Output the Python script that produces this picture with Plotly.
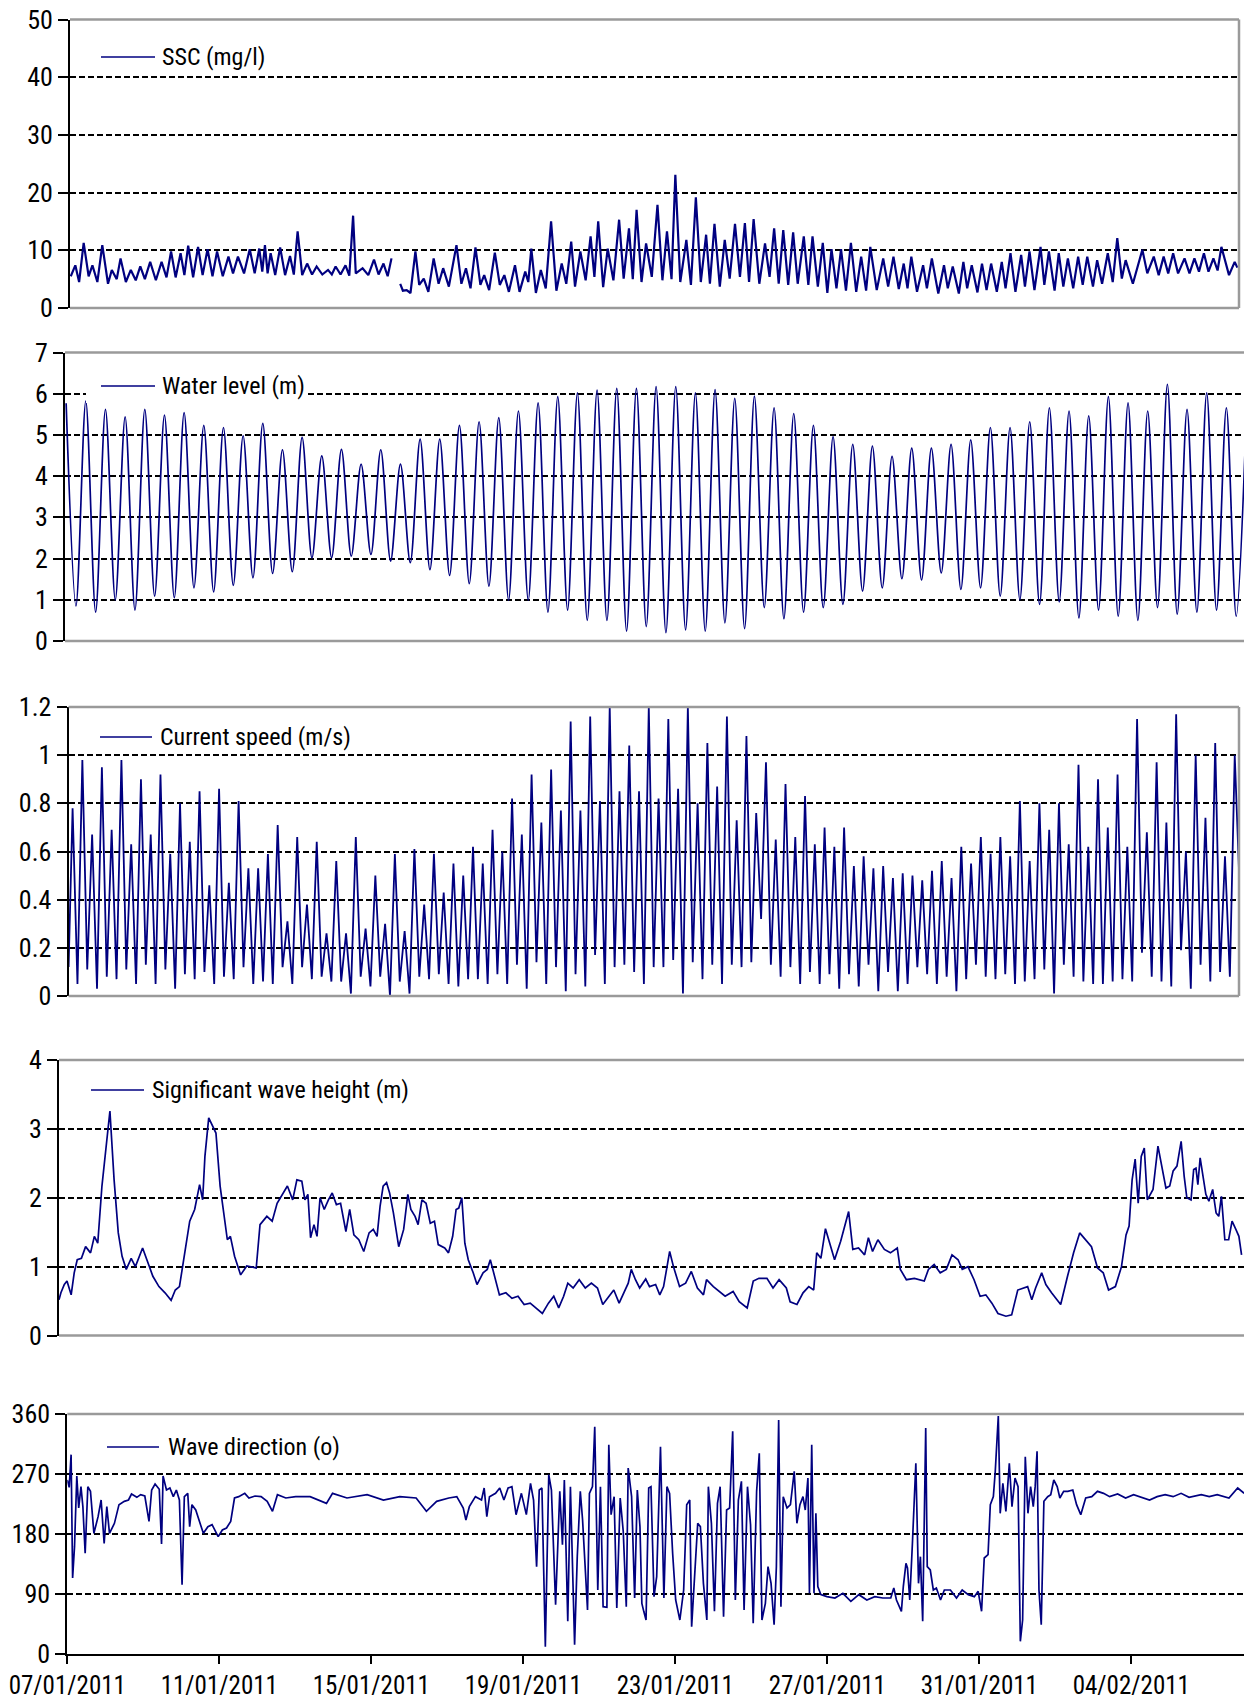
import pandas as pd
import plotly.graph_objects as go

W, H = 1244, 1701
START = pd.Timestamp("2011-01-07 00:00")
NAVY = "#000080"
GREY = "#9a9a9a"
FONT = "Liberation Sans Narrow, Arial Narrow, Roboto Condensed, DejaVu Sans Condensed, sans-serif"

# ---------------------------------------------------------------- data
# Suspended sediment concentration (mg/l); day offsets from 07/01/2011.
# A None value marks the break in the record.
ssc_day = [
    0.02, 0.14, 0.24, 0.36, 0.49, 0.59, 0.72, 0.85, 1.00, 1.10,
    1.23, 1.33, 1.47, 1.60, 1.73, 1.85, 1.97, 2.11, 2.26, 2.41,
    2.54, 2.66, 2.78, 2.91, 3.01, 3.11, 3.24, 3.37, 3.49, 3.62,
    3.75, 3.87, 4.02, 4.17, 4.29, 4.42, 4.58, 4.73, 4.86, 4.98,
    5.06, 5.13, 5.20, 5.28, 5.40, 5.53, 5.66, 5.79, 5.89, 5.99,
    6.11, 6.24, 6.37, 6.49, 6.64, 6.79, 6.89, 6.99, 7.12, 7.25,
    7.35, 7.45, 7.52, 7.70, 7.85, 8.00, 8.12, 8.25, 8.36, 8.46,
    8.58,
    8.69, 8.76, 8.86, 8.96, 9.09, 9.19, 9.31, 9.43, 9.57, 9.70,
    9.82, 9.97, 10.17, 10.30, 10.42, 10.54, 10.67, 10.80, 10.90, 11.03,
    11.18, 11.31, 11.43, 11.55, 11.71, 11.83, 11.98, 12.06, 12.14, 12.26,
    12.39, 12.52, 12.66, 12.80, 12.94, 13.06, 13.19, 13.29, 13.43, 13.57,
    13.70, 13.80, 13.90, 14.03, 14.15, 14.30, 14.45, 14.57, 14.71, 14.81,
    14.91, 15.04, 15.16, 15.31, 15.46, 15.59, 15.71, 15.83, 15.93, 16.06,
    16.22, 16.34, 16.47, 16.60, 16.74, 16.84, 16.96, 17.10, 17.23, 17.36,
    17.50, 17.63, 17.76, 17.87, 17.99, 18.14, 18.29, 18.41, 18.53, 18.65,
    18.77, 18.90, 19.03, 19.15, 19.31, 19.43, 19.54, 19.68, 19.81, 19.93,
    20.04, 20.17, 20.29, 20.42, 20.55, 20.69, 20.82, 20.95, 21.06, 21.23,
    21.40, 21.53, 21.67, 21.81, 21.94, 22.04, 22.14, 22.29, 22.45, 22.55,
    22.68, 22.85, 23.00, 23.10, 23.23, 23.39, 23.51, 23.61, 23.73, 23.88,
    24.00, 24.12, 24.24, 24.39, 24.52, 24.62, 24.75, 24.88, 25.03, 25.13,
    25.25, 25.38, 25.54, 25.64, 25.76, 25.91, 26.02, 26.14, 26.26, 26.40,
    26.53, 26.65, 26.77, 26.92, 27.03, 27.16, 27.31, 27.44, 27.56, 27.68,
    27.78, 27.97, 28.22, 28.35, 28.52, 28.65, 28.78, 28.90, 29.03, 29.16,
    29.33, 29.46, 29.59, 29.71, 29.84, 29.96, 30.09, 30.20, 30.30, 30.50,
    30.65, 30.72,
]
ssc_mgl = [
    5.5, 7.4, 4.5, 11.3, 5.5, 7.4, 4.5, 10.9, 4.2, 6.6,
    5.0, 8.6, 4.5, 6.6, 4.8, 7.2, 5.0, 8.0, 4.8, 8.0,
    5.3, 9.8, 5.3, 9.5, 5.7, 10.8, 5.3, 10.6, 5.7, 10.2,
    5.5, 9.8, 5.5, 8.9, 6.0, 8.9, 6.0, 10.2, 6.0, 10.3,
    6.3, 10.9, 6.0, 9.5, 5.7, 10.5, 5.7, 9.0, 5.8, 13.3,
    5.7, 7.7, 5.8, 7.2, 5.8, 6.6, 5.8, 7.2, 5.8, 7.4,
    5.6, 16.0, 6.0, 6.9, 5.7, 8.4, 5.8, 7.7, 5.5, 8.6,
    None,
    4.2, 3.0, 3.1, 2.6, 9.8, 4.0, 5.1, 2.8, 8.6, 4.2,
    6.9, 3.7, 10.9, 4.2, 6.9, 3.4, 10.5, 4.0, 5.7, 3.1,
    9.6, 4.0, 5.7, 2.8, 7.4, 2.8, 6.3, 4.5, 10.3, 2.6,
    6.6, 3.4, 15.0, 3.0, 7.7, 4.2, 11.5, 3.7, 9.8, 4.8,
    12.4, 5.4, 15.0, 3.6, 10.3, 4.8, 15.3, 5.1, 13.8, 5.0,
    17.0, 4.5, 11.2, 5.4, 17.9, 4.8, 13.3, 5.0, 23.1, 4.5,
    11.8, 4.0, 19.2, 4.5, 12.7, 4.2, 14.6, 3.7, 11.8, 5.1,
    14.6, 5.4, 14.7, 4.5, 15.4, 4.2, 11.2, 5.4, 13.8, 4.2,
    13.5, 4.0, 13.1, 4.2, 12.4, 4.0, 12.4, 3.7, 11.3, 2.6,
    10.2, 3.4, 10.2, 3.0, 11.3, 2.8, 8.9, 3.0, 10.6, 3.1,
    8.6, 3.7, 8.9, 3.3, 7.7, 3.4, 8.9, 2.8, 7.4, 3.4,
    8.6, 2.5, 7.4, 3.4, 7.2, 2.5, 8.0, 3.4, 7.4, 2.7,
    7.7, 3.1, 7.7, 2.8, 8.0, 3.4, 9.5, 2.8, 9.2, 3.7,
    9.8, 3.1, 10.6, 4.0, 9.8, 3.0, 9.5, 3.7, 8.6, 3.4,
    8.9, 4.0, 8.9, 3.7, 8.3, 4.2, 9.5, 4.5, 12.1, 5.1,
    8.3, 4.2, 10.1, 6.0, 8.9, 5.7, 8.9, 6.0, 9.5, 6.0,
    8.6, 6.0, 8.6, 6.3, 9.5, 6.3, 8.6, 6.5, 10.6, 5.7,
    8.0, 7.0,
]

# Water level (m): successive high and low waters
wl_high = [
    5.77, 5.82, 5.62, 5.44, 5.62, 5.48, 5.54, 5.23, 5.18, 4.98,
    5.28, 4.64, 4.94, 4.49, 4.65, 4.29, 4.64, 4.29, 4.90, 4.90,
    5.23, 5.32, 5.42, 5.58, 5.78, 5.93, 6.02, 6.09, 6.13, 6.13,
    6.17, 6.17, 6.02, 6.10, 5.89, 5.94, 5.66, 5.52, 5.23, 4.96,
    4.77, 4.73, 4.48, 4.68, 4.68, 4.77, 4.88, 5.18, 5.18, 5.32,
    5.66, 5.58, 5.46, 5.93, 5.78, 5.58, 6.23, 5.62, 6.02, 5.66,
    5.30,
]
wl_low = [
    0.85, 0.70, 1.00, 0.75, 1.09, 1.05, 1.29, 1.19, 1.35, 1.53,
    1.64, 1.68, 2.02, 2.02, 2.06, 2.10, 1.94, 1.90, 1.73, 1.59,
    1.39, 1.33, 0.99, 0.99, 0.70, 0.75, 0.50, 0.50, 0.24, 0.35,
    0.20, 0.27, 0.24, 0.44, 0.30, 0.81, 0.54, 0.70, 0.81, 0.89,
    1.21, 1.29, 1.51, 1.48, 1.65, 1.25, 1.29, 1.09, 1.00, 0.89,
    0.95, 0.56, 0.75, 0.60, 0.50, 0.81, 0.65, 0.70, 0.75, 0.60,
]
WL_FIRST_HW = 0.03          # day offset of the first high water
TIDE_PERIOD = 12.42 / 24.0  # semidiurnal period in days

# Current speed (m/s): flood/ebb maxima and the slack minima around them
cur_peak = [
    0.78, 0.98, 0.67, 0.95, 0.69, 0.98, 0.63, 0.90, 0.67, 0.92,
    0.59, 0.80, 0.64, 0.85, 0.46, 0.86, 0.47, 0.81, 0.53, 0.53,
    0.59, 0.71, 0.31, 0.66, 0.38, 0.64, 0.26, 0.56, 0.26, 0.66,
    0.28, 0.50, 0.30, 0.59, 0.27, 0.61, 0.38, 0.59, 0.43, 0.55,
    0.50, 0.62, 0.55, 0.69, 0.60, 0.82, 0.67, 0.92, 0.72, 0.94,
    0.77, 1.14, 0.77, 1.16, 0.81, 1.20, 0.85, 1.04,
    0.85, 1.20, 0.82, 1.15, 0.86, 1.20, 0.80, 1.05, 0.87, 1.16,
    0.73, 1.08, 0.76, 0.97, 0.65, 0.88, 0.66, 0.83, 0.63, 0.70,
    0.62, 0.70, 0.54, 0.58, 0.53, 0.54, 0.49, 0.51, 0.50, 0.48,
    0.52, 0.56, 0.49, 0.62, 0.55, 0.66, 0.59, 0.66, 0.58, 0.81,
    0.56, 0.80, 0.69, 0.80, 0.63, 0.96, 0.62, 0.90, 0.70, 0.92,
    0.62, 1.15, 0.68, 0.97, 0.72, 1.17, 0.60, 1.00, 0.74, 1.05,
    0.58, 1.00,
]
cur_trough = [
    0.12,
    0.05, 0.11, 0.03, 0.08, 0.07, 0.11, 0.05, 0.13, 0.05, 0.11,
    0.03, 0.09, 0.07, 0.10, 0.05, 0.08, 0.07, 0.12, 0.05, 0.06,
    0.05, 0.12, 0.05, 0.12, 0.07, 0.08, 0.06, 0.06, 0.01, 0.08,
    0.04, 0.08, 0.00, 0.06, 0.01, 0.08, 0.07, 0.09, 0.05, 0.04,
    0.07, 0.07, 0.05, 0.09, 0.05, 0.13, 0.03, 0.14, 0.05, 0.12,
    0.02, 0.09, 0.04, 0.17, 0.05, 0.12, 0.13, 0.10,
    0.05, 0.12, 0.12, 0.15, 0.01, 0.14, 0.07, 0.13, 0.05, 0.13,
    0.12, 0.14, 0.32, 0.13, 0.08, 0.12, 0.05, 0.10, 0.05, 0.09,
    0.03, 0.09, 0.04, 0.13, 0.02, 0.10, 0.02, 0.05, 0.12, 0.09,
    0.05, 0.08, 0.02, 0.07, 0.13, 0.08, 0.07, 0.09, 0.05, 0.06,
    0.07, 0.11, 0.01, 0.13, 0.08, 0.06, 0.05, 0.05, 0.06, 0.07,
    0.06, 0.18, 0.08, 0.06, 0.04, 0.19, 0.03, 0.13, 0.06, 0.10,
    0.08, 0.45,
]
CUR_FIRST_PEAK = 0.105   # day offset of the first maximum
CUR_STEP = 0.257         # days between successive maxima

# Significant wave height (m)
hs_day = [
    0.00, 0.05, 0.14, 0.21, 0.32, 0.40, 0.48, 0.59, 0.70, 0.83,
    0.93, 1.02, 1.13, 1.21, 1.34, 1.45, 1.56, 1.66, 1.77, 1.90,
    2.01, 2.20, 2.33, 2.47, 2.63, 2.79, 2.95, 3.06, 3.17, 3.33,
    3.44, 3.57, 3.70, 3.78, 3.84, 3.94, 4.05, 4.13, 4.24, 4.35,
    4.43, 4.51, 4.62, 4.78, 4.94, 5.19, 5.29, 5.47, 5.61, 5.74,
    5.90, 6.01, 6.15, 6.26, 6.39, 6.47, 6.55, 6.62, 6.71, 6.79,
    6.87, 6.98, 7.09, 7.19, 7.30, 7.41, 7.55, 7.65, 7.76, 7.89,
    8.02, 8.16, 8.27, 8.37, 8.45, 8.53, 8.62, 8.70, 8.80, 8.94,
    9.07, 9.18, 9.26, 9.37, 9.45, 9.55, 9.66, 9.77, 9.88, 9.98,
    10.15, 10.25, 10.36, 10.45, 10.52, 10.60, 10.68, 10.77, 10.90, 11.00,
    11.16, 11.27, 11.35, 11.49, 11.59, 11.76, 11.92, 12.08, 12.24, 12.40,
    12.56, 12.72, 12.88, 13.02, 13.15, 13.28, 13.39, 13.53, 13.69, 13.85,
    14.01, 14.17, 14.31, 14.44, 14.60, 14.74, 14.87, 14.98, 15.06, 15.17,
    15.28, 15.44, 15.54, 15.70, 15.81, 15.91, 16.07, 16.17, 16.33, 16.49,
    16.64, 16.80, 16.96, 17.04, 17.22, 17.38, 17.53, 17.74, 17.90, 18.11,
    18.27, 18.42, 18.63, 18.79, 18.95, 19.14, 19.24, 19.42, 19.58, 19.73,
    19.86, 19.94, 20.05, 20.17, 20.26, 20.41, 20.57, 20.68, 20.78, 20.89,
    21.04, 21.20, 21.30, 21.41, 21.55, 21.72, 21.88, 22.06, 22.14, 22.30,
    22.51, 22.77, 22.88, 23.03, 23.19, 23.35, 23.50, 23.66, 23.77, 23.92,
    24.08, 24.24, 24.39, 24.55, 24.71, 24.92, 25.07, 25.23, 25.36, 25.49,
    25.60, 25.70, 25.86, 25.97, 26.12, 26.36, 26.54, 26.70, 26.86, 27.01,
    27.17, 27.33, 27.48, 27.62, 27.80, 27.96, 28.08, 28.16, 28.24, 28.32,
    28.40, 28.48, 28.56, 28.64, 28.79, 28.92, 29.02, 29.13, 29.23, 29.32,
    29.42, 29.53, 29.61, 29.68, 29.79, 29.86, 29.92, 29.97, 30.03, 30.10,
    30.18, 30.26, 30.36, 30.45, 30.52, 30.59, 30.68, 30.78, 30.87, 30.97,
    31.05, 31.12,
]
hs_m = [
    0.52, 0.62, 0.74, 0.79, 0.59, 0.91, 1.10, 1.12, 1.29, 1.20,
    1.44, 1.34, 2.17, 2.58, 3.26, 2.26, 1.49, 1.15, 0.96, 1.12,
    1.00, 1.27, 1.08, 0.86, 0.71, 0.62, 0.51, 0.66, 0.71, 1.29,
    1.66, 1.83, 2.19, 1.97, 2.60, 3.16, 3.04, 2.94, 2.17, 1.76,
    1.39, 1.44, 1.15, 0.88, 1.01, 0.98, 1.61, 1.73, 1.66, 1.92,
    2.07, 2.17, 1.97, 2.26, 2.24, 1.97, 2.05, 1.42, 1.61, 1.44,
    2.00, 1.83, 1.97, 2.07, 1.90, 1.92, 1.51, 1.83, 1.46, 1.39,
    1.22, 1.49, 1.54, 1.44, 1.88, 2.17, 2.22, 2.07, 1.78, 1.29,
    1.54, 2.05, 1.83, 1.73, 1.61, 1.97, 1.92, 1.63, 1.66, 1.32,
    1.27, 1.20, 1.44, 1.83, 1.85, 2.00, 1.34, 1.10, 0.91, 0.74,
    0.91, 0.96, 1.10, 0.81, 0.59, 0.62, 0.54, 0.57, 0.45, 0.47,
    0.40, 0.32, 0.47, 0.57, 0.40, 0.57, 0.76, 0.69, 0.81, 0.69,
    0.76, 0.69, 0.45, 0.54, 0.66, 0.47, 0.62, 0.76, 0.96, 0.81,
    0.69, 0.82, 0.71, 0.74, 0.59, 0.71, 1.22, 1.00, 0.71, 0.76,
    0.93, 0.69, 0.59, 0.81, 0.71, 0.64, 0.57, 0.64, 0.49, 0.40,
    0.79, 0.83, 0.83, 0.69, 0.81, 0.69, 0.49, 0.45, 0.62, 0.71,
    0.66, 1.20, 1.12, 1.55, 1.39, 1.10, 1.37, 1.61, 1.80, 1.25,
    1.27, 1.17, 1.42, 1.22, 1.39, 1.25, 1.20, 1.27, 0.96, 0.81,
    0.83, 0.79, 0.96, 1.03, 0.91, 0.96, 1.17, 1.10, 0.96, 1.00,
    0.81, 0.57, 0.59, 0.47, 0.32, 0.28, 0.30, 0.66, 0.69, 0.71,
    0.52, 0.69, 0.91, 0.74, 0.62, 0.45, 0.86, 1.20, 1.49, 1.39,
    1.29, 0.98, 0.91, 0.66, 0.71, 1.00, 1.46, 1.59, 2.26, 2.56,
    1.92, 2.60, 2.72, 1.97, 2.12, 2.75, 2.43, 2.14, 2.17, 2.39,
    2.46, 2.82, 2.31, 2.00, 1.97, 2.41, 2.43, 2.19, 2.58, 2.36,
    2.05, 1.95, 2.12, 1.78, 1.73, 2.02, 1.39, 1.39, 1.66, 1.54,
    1.44, 1.17,
]

# Wave direction (degrees)
dir_day = [
    0.00, 0.05, 0.10, 0.14, 0.19, 0.25, 0.30, 0.36, 0.41, 0.47,
    0.54, 0.61, 0.70, 0.81, 0.89, 0.97, 1.04, 1.11, 1.24, 1.36,
    1.50, 1.61, 1.69, 1.83, 1.93, 2.04, 2.15, 2.22, 2.31, 2.42,
    2.48, 2.52, 2.61, 2.70, 2.79, 2.87, 2.95, 3.02, 3.08, 3.17,
    3.22, 3.28, 3.38, 3.49, 3.58, 3.70, 3.81, 3.97, 4.08, 4.19,
    4.30, 4.40, 4.51, 4.67, 4.78, 4.94, 5.10, 5.26, 5.40, 5.53,
    5.75, 6.01, 6.39, 6.82, 6.98, 7.36, 7.89, 8.32, 8.75, 9.18,
    9.45, 9.72, 10.04, 10.25, 10.42, 10.49, 10.58, 10.74, 10.90, 10.97,
    11.04, 11.11, 11.27, 11.38, 11.49, 11.60, 11.70, 11.81, 11.95, 12.08,
    12.19, 12.27, 12.35, 12.42, 12.49, 12.58, 12.67, 12.74, 12.85, 12.96,
    13.03, 13.08, 13.17, 13.24, 13.35, 13.42, 13.50, 13.56, 13.64, 13.69,
    13.74, 13.82, 13.88, 13.96, 14.03, 14.10, 14.20, 14.25, 14.31, 14.39,
    14.46, 14.55, 14.63, 14.71, 14.76, 14.85, 14.93, 15.00, 15.07, 15.12,
    15.17, 15.23, 15.30, 15.36, 15.44, 15.51, 15.61, 15.70, 15.78, 15.85,
    15.93, 16.01, 16.12, 16.22, 16.30, 16.38, 16.43, 16.51, 16.59, 16.66,
    16.74, 16.83, 16.87, 16.95, 17.03, 17.11, 17.18, 17.27, 17.35, 17.43,
    17.51, 17.58, 17.66, 17.74, 17.81, 17.90, 17.98, 18.05, 18.14, 18.21,
    18.28, 18.37, 18.44, 18.52, 18.60, 18.66, 18.72, 18.78, 18.84, 18.94,
    19.03, 19.13, 19.20, 19.28, 19.36, 19.42, 19.49, 19.53, 19.59, 19.65,
    19.70, 19.75, 19.83, 19.99, 20.20, 20.41, 20.62, 20.83, 21.04, 21.25,
    21.46, 21.67, 21.75, 21.82, 21.95, 22.00, 22.07, 22.11, 22.17, 22.24,
    22.33, 22.40, 22.45, 22.51, 22.59, 22.63, 22.71, 22.79, 22.87, 22.98,
    23.08, 23.24, 23.40, 23.55, 23.71, 23.87, 23.97, 24.06, 24.13, 24.23,
    24.29, 24.37, 24.42, 24.50, 24.55, 24.62, 24.70, 24.79, 24.86, 24.94,
    25.02, 25.08, 25.14, 25.21, 25.28, 25.35, 25.42, 25.47, 25.52, 25.57,
    25.63, 25.70, 25.80, 25.88, 25.96, 26.05, 26.12, 26.22, 26.33, 26.46,
    26.56, 26.67, 26.80, 26.96, 27.11, 27.27, 27.43, 27.64, 27.85, 28.06,
    28.27, 28.48, 28.68, 28.89, 29.10, 29.31, 29.52, 29.84, 30.05, 30.26,
    30.57, 30.80, 30.97,
]
dir_deg = [
    261, 250, 299, 114, 161, 267, 219, 251, 221, 151,
    251, 244, 181, 206, 231, 166, 221, 181, 196, 224,
    229, 231, 240, 235, 239, 237, 199, 246, 255, 247,
    165, 267, 246, 249, 236, 246, 231, 104, 236, 241,
    191, 224, 216, 196, 181, 191, 194, 176, 186, 189,
    199, 234, 236, 241, 234, 237, 236, 229, 214, 239,
    234, 236, 236, 226, 241, 234, 239, 231, 236, 234,
    214, 229, 234, 236, 219, 201, 221, 236, 231, 249,
    206, 236, 241, 249, 231, 249, 251, 209, 241, 209,
    256, 231, 131, 246, 249, 11, 269, 246, 74, 244,
    164, 261, 49, 251, 14, 146, 244, 201, 104, 66,
    241, 251, 341, 96, 251, 71, 70, 314, 209, 236,
    69, 234, 184, 71, 279, 236, 84, 246, 191, 76,
    64, 51, 249, 251, 86, 116, 311, 84, 251, 241,
    151, 81, 51, 96, 224, 231, 41, 116, 196, 191,
    106, 51, 251, 196, 64, 226, 251, 56, 216, 219,
    334, 81, 231, 259, 66, 251, 194, 46, 244, 301,
    51, 76, 131, 106, 44, 131, 351, 71, 236, 219,
    224, 274, 196, 224, 236, 216, 264, 91, 314, 91,
    211, 101, 89, 86, 84, 91, 79, 89, 81, 86,
    84, 84, 99, 81, 64, 101, 136, 129, 81, 166,
    286, 106, 146, 49, 339, 131, 126, 96, 99, 81,
    96, 96, 84, 96, 89, 86, 94, 64, 144, 149,
    224, 236, 274, 357, 211, 256, 214, 286, 221, 264,
    251, 19, 51, 296, 211, 251, 221, 251, 304, 96,
    44, 229, 236, 239, 261, 251, 234, 244, 244, 246,
    224, 209, 234, 236, 244, 241, 236, 240, 234, 239,
    235, 231, 236, 239, 236, 241, 235, 239, 236, 239,
    234, 249, 241,
]

assert len(ssc_day) == len(ssc_mgl)
assert len(hs_day) == len(hs_m)
assert len(dir_day) == len(dir_deg)
assert len(wl_high) == len(wl_low) + 1
assert len(cur_trough) == len(cur_peak) + 1


def as_time(days):
    return [(START + pd.Timedelta(days=d)).round("s") for d in days]


# high/low water sequence
wl_days, wl_m = [], []
for k, hw in enumerate(wl_high):
    wl_days.append(WL_FIRST_HW + k * TIDE_PERIOD)
    wl_m.append(hw)
    if k < len(wl_low):
        wl_days.append(WL_FIRST_HW + (k + 0.5) * TIDE_PERIOD)
        wl_m.append(wl_low[k])

# current speed sequence: minimum, maximum, minimum, ...
cur_days, cur_ms = [max(CUR_FIRST_PEAK - CUR_STEP / 2, 0.0)], [cur_trough[0]]
for k, pk in enumerate(cur_peak):
    cur_days.append(CUR_FIRST_PEAK + k * CUR_STEP)
    cur_ms.append(pk)
    cur_days.append(CUR_FIRST_PEAK + (k + 0.5) * CUR_STEP)
    cur_ms.append(cur_trough[k + 1])

# ---------------------------------------------------------------- layout
PX_PER_DAY = 38.0
# plot boxes in pixels: left, right, top, bottom; legend box/sample/text positions
panels = [
    dict(L=70, R=1239, T=19.5, B=308, ymax=50, dtick=10, name="SSC (mg/l)",
         leg=(86, 268, 57, 101, 155, 160), right_border=True),
    dict(L=65, R=1244, T=352.5, B=641, ymax=7, dtick=1, name="Water level (m)",
         leg=(86, 308, 386, 101, 155, 160), right_border=False),
    dict(L=68.6, R=1239, T=707, B=996, ymax=1.2, dtick=0.2, name="Current speed (m/s)",
         leg=(80, 350, 737, 100, 152, 158), right_border=True),
    dict(L=59, R=1244, T=1060, B=1335.5, ymax=4, dtick=1, name="Significant wave height (m)",
         leg=(86, 400, 1090, 91, 144, 150), right_border=False),
    dict(L=67.3, R=1244, T=1414, B=1654, ymax=360, dtick=90, name="Wave direction (o)",
         leg=(92, 340, 1447, 107, 159, 166), right_border=False),
]

series = [
    (as_time(ssc_day), ssc_mgl, "linear", 2.2),
    (as_time(wl_days), wl_m, "spline", 1.7),
    (as_time(cur_days), cur_ms, "linear", 1.8),
    (as_time(hs_day), hs_m, "linear", 1.7),
    (as_time(dir_day), dir_deg, "linear", 1.7),
]


def fx(px):
    return px / W


def fy(py):
    return 1 - py / H


fig = go.Figure()
shapes, annotations = [], []
layout = dict(
    width=W, height=H,
    margin=dict(l=0, r=0, t=0, b=0, autoexpand=False),
    paper_bgcolor="white", plot_bgcolor="white",
    showlegend=False,
    font=dict(family=FONT, color="black", size=24),
)

for i, (p, (xs, ys, shape, lw)) in enumerate(zip(panels, series), start=1):
    sfx = "" if i == 1 else str(i)
    xa, ya = f"xaxis{sfx}", f"yaxis{sfx}"
    xr, yr = f"x{sfx}", f"y{sfx}"
    fig.add_trace(go.Scatter(
        x=xs, y=ys, mode="lines", name=p["name"], xaxis=xr, yaxis=yr,
        line=dict(color=NAVY, width=lw, shape=shape, smoothing=0.9),
        connectgaps=False, showlegend=False,
    ))
    span = (p["R"] - p["L"]) / PX_PER_DAY
    last = (i == len(panels))
    layout[xa] = dict(
        domain=[fx(p["L"]), fx(p["R"])], anchor=yr, type="date", automargin=False,
        range=[START, (START + pd.Timedelta(days=span)).round("s")],
        showgrid=False, zeroline=False,
        showline=last, linecolor="black", linewidth=2,
        ticks="outside" if last else "", ticklen=8, tickwidth=1.5, tickcolor="black",
        showticklabels=last, tick0="2011-01-07", dtick=4 * 86400000,
        tickformat="%d/%m/%Y", tickfont=dict(family=FONT, size=25, color="black"),
    )
    layout[ya] = dict(
        domain=[fy(p["B"]), fy(p["T"])], anchor=xr, automargin=False,
        range=[0, p["ymax"]], dtick=p["dtick"], tick0=0,
        showgrid=True, gridcolor="black", gridwidth=1.8, griddash="6px,3px",
        zeroline=False, showline=True, linecolor="black", linewidth=2,
        ticks="outside", ticklen=10, tickwidth=1.5, tickcolor="black",
        tickfont=dict(family=FONT, size=26, color="black"),
    )

    # grey frame of the plot area, in page coordinates
    x0p, x1p = fx(p["L"]), fx(p["R"])
    y0p, y1p = fy(p["B"]), fy(p["T"])
    shapes.append(dict(type="line", xref="paper", yref="paper", x0=x0p, x1=x1p, y0=y1p, y1=y1p,
                       line=dict(color=GREY, width=2.5), layer="above"))
    if not last:
        shapes.append(dict(type="line", xref="paper", yref="paper", x0=x0p, x1=x1p, y0=y0p, y1=y0p,
                           line=dict(color=GREY, width=2.5), layer="above"))
    if p["right_border"]:
        shapes.append(dict(type="line", xref="paper", yref="paper", x0=x1p, x1=x1p, y0=y0p, y1=y1p,
                           line=dict(color=GREY, width=2.5), layer="above"))

    # legend: white box, line sample and label
    bx0, bx1, cy, lx0, lx1, tx = p["leg"]
    shapes.append(dict(type="rect", xref="paper", yref="paper",
                       x0=fx(bx0), x1=fx(bx1), y0=fy(cy + 17), y1=fy(cy - 17),
                       fillcolor="white", line=dict(width=0), layer="above"))
    shapes.append(dict(type="line", xref="paper", yref="paper",
                       x0=fx(lx0), x1=fx(lx1), y0=fy(cy), y1=fy(cy),
                       line=dict(color=NAVY, width=1.6), layer="above"))
    annotations.append(dict(xref="paper", yref="paper", x=fx(tx), y=fy(cy),
                            xanchor="left", yanchor="middle", showarrow=False,
                            text=p["name"], font=dict(family=FONT, size=24, color="black")))

layout["shapes"] = shapes
layout["annotations"] = annotations
fig.update_layout(**layout)
fig.write_html("out.html")
